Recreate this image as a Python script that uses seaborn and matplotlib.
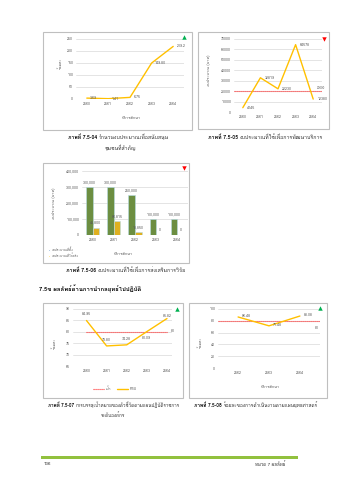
import matplotlib
matplotlib.use('Agg')
import numpy as np
import pandas as pd
import matplotlib.pyplot as plt
import seaborn as sns
from matplotlib import font_manager
from matplotlib.ft2font import FT2Font
from matplotlib.transforms import Affine2D
from matplotlib.patches import Rectangle, Patch
from matplotlib.lines import Line2D

# ---------------- data ----------------
years = [2560, 2561, 2562, 2563, 2564]
year_labels = ['2560', '2561', '2562', '2563', '2564']

support_pct = [3.69, 1.41, 6.75, 149.80, 219.2]
support_labels = ['3.69', '1.41', '6.75', '149.80', '219.2']
support_ticks = [0, 50, 100, 150, 200, 250]

service_budget = [4145, 32819, 22230, 64578, 12380]
service_target = 20000
service_ticks = [0, 10000, 20000, 30000, 40000, 50000, 60000, 70000]

research_planned = [300000, 300000, 250000, 100000, 100000]
research_spent = [45800, 86815, 18850, 0, 0]
research_series = ['งบประมาณที่ตั้ง', 'งบประมาณที่ใช้จริง']
research_ticks = [0, 100000, 200000, 300000, 400000]

kpi_psu = [84.95, 73.80, 74.28, 80.09, 85.82]
kpi_labels = ['84.95', '73.80', '74.28', '80.09', '85.82']
kpi_target = [80, 80, 80, 80, 80]
kpi_series = ['เป้า', 'PSU']
kpi_ticks = [65, 70, 75, 80, 85, 90]

plan_years = [2562, 2563, 2564]
plan_pct = [86.48, 71.48, 88.08]
plan_labels = ['86.48', '71.48', '88.08']
plan_target = 80
plan_ticks = [0, 20, 40, 60, 80, 100]

# ---------------- style ----------------
W, H = 339, 480
GOLD = '#FFC000'
RED = '#FF3333'
GRID = '#D9D9D9'
TXT = '#595959'
FRAME = '#BFBFBF'
TICK_FS = 2.6


def thai_family():
    for f in font_manager.fontManager.ttflist:
        try:
            ft = FT2Font(f.fname)
            if ft.get_char_index(0x0E01) and ft.get_char_index(0x0E1E):
                return f.name
        except Exception:
            continue
    return 'DejaVu Sans'


sns.set_theme(style='white')
plt.rcParams['font.family'] = [thai_family(), 'DejaVu Sans']
plt.rcParams['axes.unicode_minus'] = False

fig = plt.figure(figsize=(W / 100, H / 100), dpi=100)
fig.patch.set_facecolor('white')
# pixel coordinates, origin top-left
pix = Affine2D().scale(1 / W, -1 / H).translate(0, 1) + fig.transFigure


def axes_px(l, t, r, b):
    ax = fig.add_axes([l / W, 1 - b / H, (r - l) / W, (b - t) / H])
    ax.set_facecolor('none')
    for s in ax.spines.values():
        s.set_visible(False)
    ax.tick_params(length=0, labelsize=TICK_FS, labelcolor=TXT, pad=2)
    ax.grid(False)
    return ax


def frame(l, t, r, b):
    fig.add_artist(Rectangle((l, b), r - l, t - b, transform=pix, fill=False,
                             edgecolor=FRAME, linewidth=0.8, zorder=0))


def ygrid(ax, ticks):
    ax.set_yticks(ticks)
    for v in ticks:
        ax.axhline(v, color=GRID, lw=0.5, zorder=0)


def marker(x, y, kind):
    color = '#00B050' if kind == '^' else '#FF0000'
    fig.add_artist(Line2D([x], [y], transform=pix, marker=kind, markersize=3.2,
                          color=color, markeredgewidth=0, linestyle='none'))


def ptext(x, y, s, size=TICK_FS, rot=0, **kw):
    kw.setdefault('ha', 'center')
    kw.setdefault('va', 'center')
    kw.setdefault('color', TXT)
    return fig.text(x, y, s, transform=pix, fontsize=size, rotation=rot, **kw)


def caption(cx, cy, bold, rest, width, size=3.8):
    """Bold figure number followed by plain caption text, fitted to a width."""
    r = fig.canvas.get_renderer()
    t1 = ptext(0, cy, bold, size=size, ha='left', color='black', fontweight='bold')
    t2 = ptext(0, cy, rest, size=size, ha='left', color='#333333')
    total = t1.get_window_extent(r).width + 1.5 + t2.get_window_extent(r).width
    scale = min(1.0, width / total)
    t1.set_fontsize(size * scale)
    t2.set_fontsize(size * scale)
    w1 = t1.get_window_extent(r).width
    w2 = t2.get_window_extent(r).width
    x0 = cx - (w1 + 1.5 + w2) / 2
    t1.set_position((x0, cy))
    t2.set_position((x0 + w1 + 1.5, cy))
    return size * scale


def plain_caption(cx, cy, s, size):
    ptext(cx, cy, s, size=size, color='#333333')


# ---------------- chart 1: support (line) ----------------
frame(43, 32, 192, 130)
ax1 = axes_px(76, 39, 184, 99)
sns.lineplot(x=years, y=support_pct, ax=ax1, color=GOLD, linewidth=1.0)
ax1.set_xlim(2559.5, 2564.5)
ax1.set_ylim(0, 250)
ygrid(ax1, support_ticks)
ax1.set_xticks(years)
ax1.set_xticklabels(year_labels)
ax1.set_xlabel('')
for x, v, s in zip(years, support_pct, support_labels):
    ax1.annotate(s, (x, v), xytext=(2.5, 0), textcoords='offset points',
                 ha='left', va='center', fontsize=TICK_FS, color=TXT)
ptext(60, 63, 'ร้อยละ', rot=90, size=2.9)
ptext(131, 118, 'ปีการศึกษา', size=2.9)
marker(184, 37, '^')
fs = caption(118, 137, 'ภาพที่ 7.5-04', 'จำนวนงบประมาณเพื่อสนับสนุน', 101)
plain_caption(120, 148, 'ชุมชนที่สำคัญ', fs)

# ---------------- chart 2: service budget (line + target) ----------------
frame(198, 32, 329, 129)
ax2 = axes_px(234, 39, 322, 112)
ax2.axhline(service_target, color=RED, lw=0.8, ls=(0, (1, 0.8)), zorder=2)
sns.lineplot(x=years, y=service_budget, ax=ax2, color=GOLD, linewidth=1.0)
ax2.set_xlim(2559.5, 2564.5)
ax2.set_ylim(0, 70000)
ygrid(ax2, service_ticks)
ax2.set_xticks(years)
ax2.set_xticklabels(year_labels)
for x, v in zip(years, service_budget):
    ax2.annotate(str(v), (x, v), xytext=(3, 0), textcoords='offset points',
                 ha='left', va='center', fontsize=TICK_FS, color=TXT)
ax2.annotate(str(service_target), (2564.2, service_target), xytext=(0, 2.5),
             textcoords='offset points', ha='left', va='center',
             fontsize=2.2, color=TXT)
ptext(209, 70, 'งบประมาณ (บาท)', rot=90, size=2.9)
marker(324, 39, 'v')
caption(265, 137, 'ภาพที่ 7.5-05', 'งบประมาณที่ใช้เพื่อการพัฒนาบริการ', 116)

# ---------------- chart 3: research budget (bars) ----------------
frame(43, 163, 189, 263)
ax3 = axes_px(82, 171, 188, 235)
df3 = pd.DataFrame({
    'year': year_labels * 2,
    'amount': research_planned + research_spent,
    'series': [research_series[0]] * 5 + [research_series[1]] * 5,
})
sns.barplot(data=df3, x='year', y='amount', hue='series', ax=ax3,
            palette=['#6E9B34', GOLD], width=0.62, edgecolor='#B7DDE8',
            linewidth=0.4, legend=False, zorder=3)
ax3.set_xlim(-0.5, 4.5)
ax3.set_ylim(0, 400000)
ygrid(ax3, research_ticks)
ax3.set_yticklabels([f'{t:,}' for t in research_ticks])
ax3.set_xlabel('')
ax3.set_ylabel('')
for cont in ax3.containers:
    ax3.bar_label(cont, labels=[f'{v:,.0f}' for v in cont.datavalues],
                  padding=2, fontsize=TICK_FS, color=TXT)
ptext(54, 203, 'งบประมาณ (บาท)', rot=90, size=2.9)
ptext(123, 254, 'ปีการศึกษา', size=2.9)
handles = [Patch(facecolor='#2E75B6'), Patch(facecolor=GOLD)]
fig.legend(handles, research_series, loc='upper left',
           bbox_to_anchor=(46 / W, 1 - 246 / H), frameon=False,
           fontsize=2.3, handlelength=0.7, handleheight=0.7,
           handletextpad=0.6, labelspacing=0.4, borderpad=0,
           labelcolor=TXT)
marker(184, 168, 'v')
caption(126, 270, 'ภาพที่ 7.5-06', 'งบประมาณที่ใช้เพื่อการส่งเสริมการวิจัย', 128)

# ---------------- section heading ----------------
ptext(39, 289, '7.5ข ผลลัพธ์ด้านการนำกลยุทธ์ไปปฏิบัติ', size=4.3,
      ha='left', color='black', fontweight='bold')

# ---------------- chart 4: KPI achievement ----------------
frame(43, 303, 183, 398)
ax4 = axes_px(73, 309, 172, 366)
df4 = pd.DataFrame({
    'year': years * 2,
    'value': kpi_target + kpi_psu,
    'series': [kpi_series[0]] * 5 + [kpi_series[1]] * 5,
})
sns.lineplot(data=df4, x='year', y='value', hue='series', style='series',
             palette=[RED, GOLD], dashes=[(1, 0.8), ''], ax=ax4,
             linewidth=1.0, legend=False)
ax4.lines[0].set_linewidth(0.8)
ax4.set_xlim(2559.33, 2564.25)
ax4.set_ylim(65, 90)
ygrid(ax4, kpi_ticks)
ax4.set_xticks(years)
ax4.set_xticklabels(year_labels)
ax4.set_xlabel('')
ax4.set_ylabel('')
kpi_offsets = [(0, 5), (0, 4.5), (0, 4.5), (0, -4.5), (0, 2)]
for x, v, s, off in zip(years, kpi_psu, kpi_labels, kpi_offsets):
    ax4.annotate(s, (x, v), xytext=off, textcoords='offset points',
                 ha='center', va='center', fontsize=TICK_FS, color=TXT)
ax4.annotate(str(kpi_target[-1]), (years[-1], kpi_target[-1]), xytext=(3, 0.8),
             textcoords='offset points', ha='left', va='center',
             fontsize=TICK_FS, color=TXT)
ptext(55, 343, 'ร้อยละ', rot=90, size=2.9)
leg_h = [Line2D([], [], color=RED, lw=0.8, ls=(0, (1, 0.8))),
         Line2D([], [], color=GOLD, lw=1.0)]
fig.legend(leg_h, kpi_series, loc='center', bbox_to_anchor=(115 / W, 1 - 389 / H),
           ncol=2, frameon=False, fontsize=2.6, handlelength=3.2,
           handletextpad=0.5, columnspacing=1.5, borderpad=0, labelcolor=TXT)
marker(177, 309, '^')
fs = caption(114, 405, 'ภาพที่ 7.5-07',
             'การบรรลุเป้าหมายของตัวชี้วัดตามแผนปฏิบัติราชการ', 132)
plain_caption(113, 415, 'ระดับองค์กร', fs)

# ---------------- chart 5: strategic plan ----------------
frame(189, 303, 327, 398)
ax5 = axes_px(218, 309, 320, 368)
ax5.axhline(plan_target, color=RED, lw=0.8, ls=(0, (1, 0.8)), zorder=2)
sns.lineplot(x=plan_years, y=plan_pct, ax=ax5, color=GOLD, linewidth=1.0)
ax5.set_xlim(2561.35, 2564.65)
ax5.set_ylim(0, 100)
ygrid(ax5, plan_ticks)
ax5.set_xticks(plan_years)
ax5.set_xticklabels([str(y) for y in plan_years])
for x, v, s in zip(plan_years, plan_pct, plan_labels):
    ax5.annotate(s, (x, v), xytext=(3, 0.8), textcoords='offset points',
                 ha='left', va='center', fontsize=TICK_FS, color=TXT)
ax5.annotate(str(plan_target), (2564.55, plan_target), xytext=(0, -5),
             textcoords='offset points', ha='center', va='center',
             fontsize=TICK_FS, color=TXT)
ptext(200, 342, 'ร้อยละ', rot=90, size=2.9)
ptext(270, 387, 'ปีการศึกษา', size=2.9)
marker(320, 308, '^')
caption(256, 405, 'ภาพที่ 7.5-08', 'ร้อยละของการดำเนินงานตามแผนยุทธศาสตร์', 122)

# ---------------- footer ----------------
fig.add_artist(Rectangle((41, 455.5), 257, 3, transform=pix, facecolor='#92C13E',
                         edgecolor='none'))
ptext(44, 464, '136', size=3.2, ha='left', color='#333333')
ptext(285, 464, 'หมวด 7 ผลลัพธ์', size=3.2, ha='right', color='#333333')

fig.savefig('out.png', dpi=100, facecolor='white')
